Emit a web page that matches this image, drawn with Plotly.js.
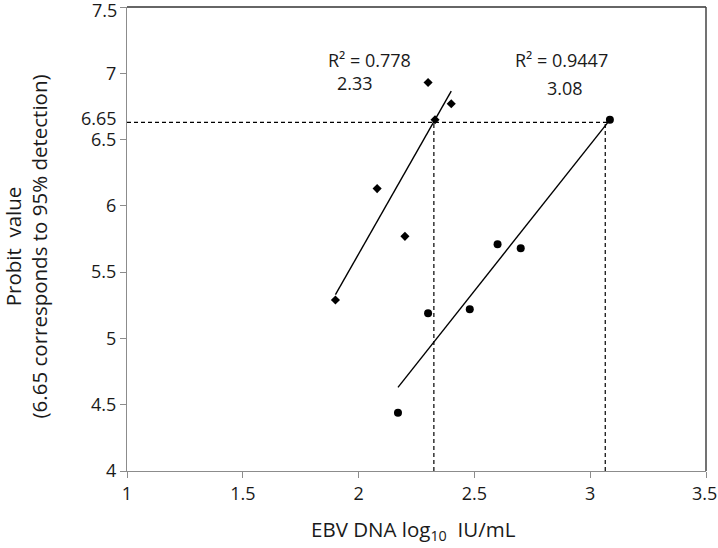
<!DOCTYPE html>
<html>
<head>
<meta charset="utf-8">
<script src="https://cdn.plot.ly/plotly-3.0.1.min.js"></script>
<style>
  html, body { margin: 0; padding: 0; background: #fff; }
  #chart { width: 718px; height: 548px; }
</style>
</head>
<body>
<div id="chart"></div>
<script>
// Series 1 (diamonds)
const diamondX = [1.90, 2.08, 2.20, 2.30, 2.33, 2.40];
const diamondY = [5.29, 6.13, 5.77, 6.93, 6.65, 6.77];

// Series 2 (circles)
const circleX = [2.17, 2.30, 2.48, 2.60, 2.70, 3.085];
const circleY = [4.44, 5.19, 5.22, 5.71, 5.68, 6.65];

// ticks (the end labels are written separately so plotly doesn't drop them at the edge)
const xTickVals = [1, 1.5, 2, 2.5, 3, 3.5];
const xTickText = ['1', '1.5', '2', '2.5', '3', ''];
const yTickVals = [4, 4.5, 5, 5.5, 6, 6.5, 7, 7.5];
const yTickText = ['4', '4.5', '5', '5.5', '6', '6.5', '7', ''];

// 95% detection level and the read-off x values
const probit95 = 6.63;
const lodX = [2.325, 3.065];
const lodLabels = ['2.33', '3.08'];
const r2Labels = ['R\u00b2 = 0.778', 'R\u00b2 = 0.9447'];

// least squares fit, drawn from min x to max x (like Excel trendline)
function fitLine(xs, ys) {
  const n = xs.length;
  const mx = xs.reduce((a, b) => a + b, 0) / n;
  const my = ys.reduce((a, b) => a + b, 0) / n;
  let sxy = 0, sxx = 0;
  for (let i = 0; i < n; i++) {
    sxy += (xs[i] - mx) * (ys[i] - my);
    sxx += (xs[i] - mx) ** 2;
  }
  const slope = sxy / sxx;
  const x0 = Math.min(...xs), x1 = Math.max(...xs);
  return { x: [x0, x1], y: [my + slope * (x0 - mx), my + slope * (x1 - mx)] };
}

const fitD = fitLine(diamondX, diamondY);
const fitC = fitLine(circleX, circleY);

const dashStyle = { color: 'black', width: 1.2, dash: '4px,3px' };

const traces = [
  // dashed guide lines
  { x: [1, Math.max(...circleX)], y: [probit95, probit95], mode: 'lines',
    line: dashStyle, hoverinfo: 'skip' },
  { x: [lodX[0], lodX[0]], y: [4, probit95], mode: 'lines',
    line: dashStyle, hoverinfo: 'skip' },
  { x: [lodX[1], lodX[1]], y: [4, probit95], mode: 'lines',
    line: dashStyle, hoverinfo: 'skip' },
  // trendlines
  { x: fitD.x, y: fitD.y, mode: 'lines', line: { color: 'black', width: 1.4 } },
  { x: fitC.x, y: fitC.y, mode: 'lines', line: { color: 'black', width: 1.4 } },
  // points
  { x: diamondX, y: diamondY, mode: 'markers',
    marker: { symbol: 'diamond', size: 7, color: 'black' } },
  { x: circleX, y: circleY, mode: 'markers',
    marker: { symbol: 'circle', size: 8, color: 'black' } }
];

const family = 'Open Sans, Liberation Sans, sans-serif';
const tickFont = { family: family, size: 18, color: '#1a1a1a' };
const font = { family: family, size: 18, color: '#1a1a1a' };
const titleFont = { family: family, size: 20.5, color: '#1a1a1a' };

const layout = {
  width: 718, height: 548,
  margin: { l: 127, r: 12, t: 7, b: 77 },
  paper_bgcolor: 'white', plot_bgcolor: 'white',
  showlegend: false,
  font: font,
  xaxis: {
    range: [1, 3.5], tickmode: 'array', tickvals: xTickVals, ticktext: xTickText,
    showgrid: false, zeroline: false,
    showline: true, linecolor: '#8c8c8c', linewidth: 1,
    ticks: 'outside', ticklen: 6, tickcolor: '#8c8c8c',
    tickfont: tickFont
  },
  yaxis: {
    range: [4, 7.5], tickmode: 'array', tickvals: yTickVals, ticktext: yTickText,
    showgrid: false, zeroline: false,
    showline: true, linecolor: '#8c8c8c', linewidth: 1,
    ticks: 'outside', ticklen: 6, tickcolor: '#8c8c8c',
    tickfont: tickFont
  },
  shapes: [
    { type: 'line', xref: 'paper', yref: 'paper', x0: 0, x1: 1, y0: 1, y1: 1,
      line: { color: '#666', width: 2 } },
    { type: 'line', xref: 'paper', yref: 'paper', x0: 1, x1: 1, y0: 0, y1: 1,
      line: { color: '#444', width: 1.5 } }
  ],
  annotations: [
    { xref: 'paper', yref: 'y', x: 0, y: 7.5, text: '7.5',
      showarrow: false, xanchor: 'right', xshift: -8, yshift: -3, font: tickFont },
    { xref: 'x', yref: 'paper', x: 3.5, y: 0, text: '3.5',
      showarrow: false, xanchor: 'center', yanchor: 'top', yshift: -8, xshift: -2,
      font: tickFont },
    { xref: 'paper', yref: 'y', x: 0, y: 6.65, text: '6.65',
      showarrow: false, xanchor: 'right', xshift: -8, yshift: 2, font: tickFont },
    { xref: 'paper', yref: 'paper', x: -0.1736, y: 0.485, textangle: -90,
      text: 'Probit  value<br>(6.65 corresponds to 95% detection)',
      showarrow: false, font: titleFont, xanchor: 'center', yanchor: 'middle' },
    { xref: 'paper', yref: 'paper', x: 0.495, y: -0.163,
      text: 'EBV DNA log<sub>10</sub>  IU/mL',
      showarrow: false, font: titleFont, xanchor: 'center', yanchor: 'bottom' },
    { x: 2.049, y: 7.10, text: r2Labels[0], showarrow: false, font: font },
    { x: 1.984, y: 6.926, text: lodLabels[0], showarrow: false, font: font },
    { x: 2.878, y: 7.10, text: r2Labels[1], showarrow: false, font: font },
    { x: 2.891, y: 6.889, text: lodLabels[1], showarrow: false, font: font }
  ]
};

Plotly.newPlot('chart', traces, layout, { displayModeBar: false, staticPlot: true });
</script>
</body>
</html>
